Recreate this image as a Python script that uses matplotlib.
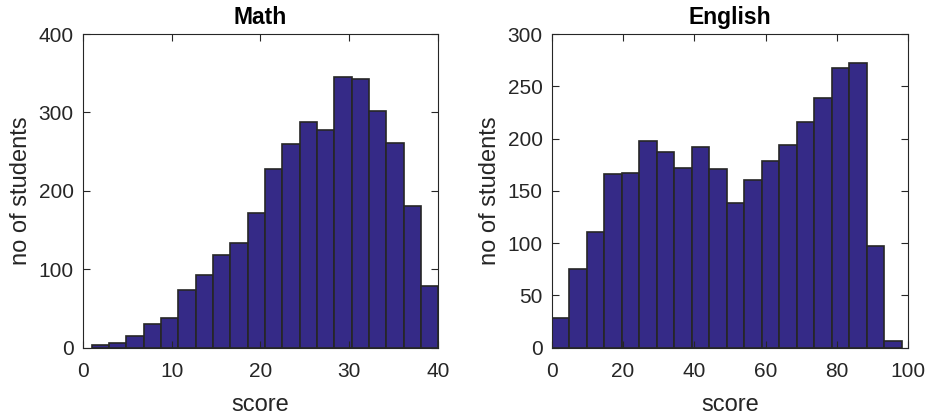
import matplotlib
matplotlib.use("Agg")
from matplotlib import pyplot as plt
import numpy as np

plt.rcParams['font.family'] = ['Liberation Sans', 'DejaVu Sans']

# math scores: 20 bins starting at 1, width 1.95
math_start = 1.0
math_width = 1.95
math_counts = [3, 6, 15, 30, 38, 73, 92, 118, 133, 172,
               228, 260, 288, 277, 345, 343, 302, 261, 180, 78]

# english scores: 20 bins starting at 0, width 4.91
eng_start = 0.0
eng_width = 4.91
eng_counts = [28, 75, 111, 166, 167, 198, 187, 172, 192, 171,
              138, 160, 179, 194, 216, 239, 268, 272, 97, 6]

face = "#352a87"
dark = "#262626"

fig = plt.figure(figsize=(9.29, 4.18), dpi=100)
ax1 = fig.add_axes([0.089, 0.1685, 0.3828, 0.750])
ax2 = fig.add_axes([0.5939, 0.1685, 0.3838, 0.750])

def draw(ax, start, width, counts, title, xlim, xticks, ylim, yticks):
    lefts = start + width * np.arange(len(counts))
    ax.bar(lefts, counts, width=width, align="edge", color=face,
           edgecolor=dark, linewidth=1.2)
    ax.set_xlim(xlim)
    ax.set_ylim(ylim)
    ax.set_xticks(xticks)
    ax.set_yticks(yticks)
    ax.tick_params(direction="in", top=True, right=True, length=5,
                   width=0.8, colors=dark, labelsize=15)
    ax.tick_params(axis="x", pad=10.5)
    ax.tick_params(axis="y", pad=6.5)
    for s in ax.spines.values():
        s.set_color(dark)
        s.set_linewidth(0.8)
    ax.set_title(title, fontsize=16.5, fontweight="bold", pad=7)
    ax.set_xlabel("score", fontsize=17, color=dark, labelpad=9)
    ax.set_ylabel("no of students", fontsize=17, color=dark, labelpad=5)

draw(ax1, math_start, math_width, math_counts, "Math",
     (0, 40), [0, 10, 20, 30, 40], (0, 400), [0, 100, 200, 300, 400])
draw(ax2, eng_start, eng_width, eng_counts, "English",
     (0, 100), [0, 20, 40, 60, 80, 100], (0, 300), [0, 50, 100, 150, 200, 250, 300])

plt.savefig("out.png", dpi=100)
